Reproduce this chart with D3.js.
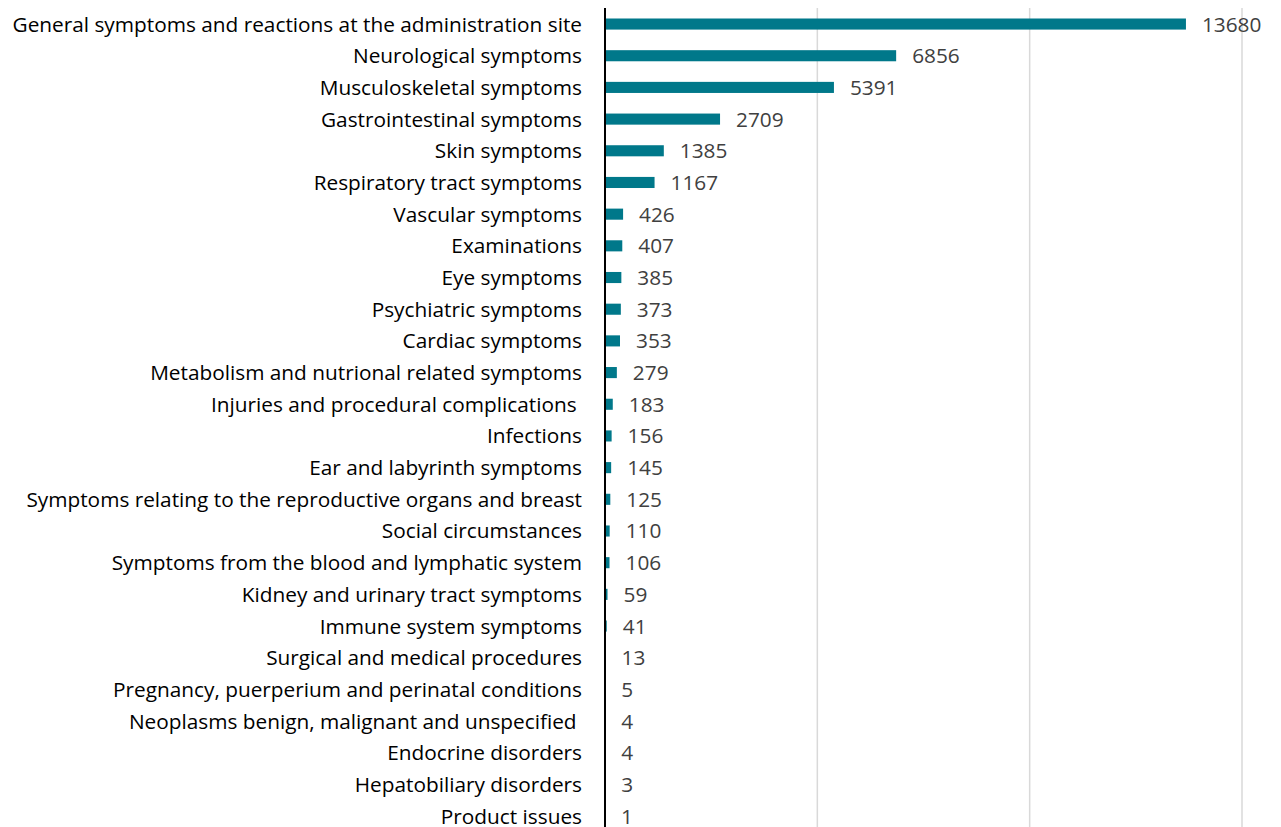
<!DOCTYPE html>
<html>
<head>
<meta charset="utf-8">
<script src="https://cdn.jsdelivr.net/npm/d3@7"></script>
<style>
  body { margin: 0; background: #fff; }
  svg { display: block; }
  .cat { font-family: "Open Sans", sans-serif; font-size: 20.8px; fill: #000; }
  .val { font-family: "Open Sans", sans-serif; font-size: 20.8px; fill: #404040; }
</style>
</head>
<body>
<div id="chart"></div>
<script>
var categories = [
  "General symptoms and reactions at the administration site",
  "Neurological symptoms",
  "Musculoskeletal symptoms",
  "Gastrointestinal symptoms",
  "Skin symptoms",
  "Respiratory tract symptoms",
  "Vascular symptoms",
  "Examinations",
  "Eye symptoms",
  "Psychiatric symptoms",
  "Cardiac symptoms",
  "Metabolism and nutrional related symptoms",
  "Injuries and procedural complications ",
  "Infections",
  "Ear and labyrinth symptoms",
  "Symptoms relating to the reproductive organs and breast",
  "Social circumstances",
  "Symptoms from the blood and lymphatic system",
  "Kidney and urinary tract symptoms",
  "Immune system symptoms",
  "Surgical and medical procedures",
  "Pregnancy, puerperium and perinatal conditions",
  "Neoplasms benign, malignant and unspecified ",
  "Endocrine disorders",
  "Hepatobiliary disorders",
  "Product issues"
];
var counts = [13680, 6856, 5391, 2709, 1385, 1167, 426, 407, 385, 373, 353, 279, 183, 156, 145, 125, 110, 106, 59, 41, 13, 5, 4, 4, 3, 1];
var gridTicks = [5000, 10000, 15000];

var width = 1281;
var height = 827;
var axisX = 605;

var data = categories.map(function(c, i) {
  return { name: c, value: counts[i] };
});

var svg = d3.select("#chart")
  .append("svg")
  .attr("width", width)
  .attr("height", height);

var xScale = d3.scaleLinear()
  .domain([0, 15000])
  .range([axisX, 1242]);

var yScale = d3.scaleBand()
  .domain(categories)
  .range([8.2, 832])
  .paddingInner(0.65)
  .paddingOuter(0.325);

// gridlines
svg.append("g")
  .selectAll("line")
  .data(gridTicks)
  .enter()
  .append("line")
  .attr("x1", function(d) { return xScale(d); })
  .attr("x2", function(d) { return xScale(d); })
  .attr("y1", 8)
  .attr("y2", height)
  .attr("stroke", "#d9d9d9")
  .attr("stroke-width", 1.5);

// bars
svg.append("g")
  .selectAll("rect")
  .data(data)
  .enter()
  .append("rect")
  .attr("x", xScale(0))
  .attr("y", function(d) { return yScale(d.name); })
  .attr("width", function(d) { return xScale(d.value) - xScale(0); })
  .attr("height", yScale.bandwidth())
  .attr("fill", "#00788a");

// value labels
svg.append("g")
  .selectAll("text")
  .data(data)
  .enter()
  .append("text")
  .attr("class", "val")
  .attr("x", function(d) { return xScale(d.value) + 16; })
  .attr("y", function(d) { return yScale(d.name) + yScale.bandwidth() / 2; })
  .attr("dy", "0.36em")
  .text(function(d) { return d.value; });

// y axis
var yAxis = d3.axisLeft(yScale).tickSize(0).tickPadding(23);
var yG = svg.append("g")
  .attr("transform", "translate(" + axisX + ",0)")
  .call(yAxis);
yG.select(".domain").remove();
yG.selectAll("text")
  .attr("class", "cat")
  .attr("font-family", null)
  .attr("font-size", null)
  .attr("dy", "0.36em")
  .attr("xml:space", "preserve");

svg.append("line")
  .attr("x1", axisX)
  .attr("x2", axisX)
  .attr("y1", 8)
  .attr("y2", height)
  .attr("stroke", "#000")
  .attr("stroke-width", 2);
</script>
</body>
</html>
